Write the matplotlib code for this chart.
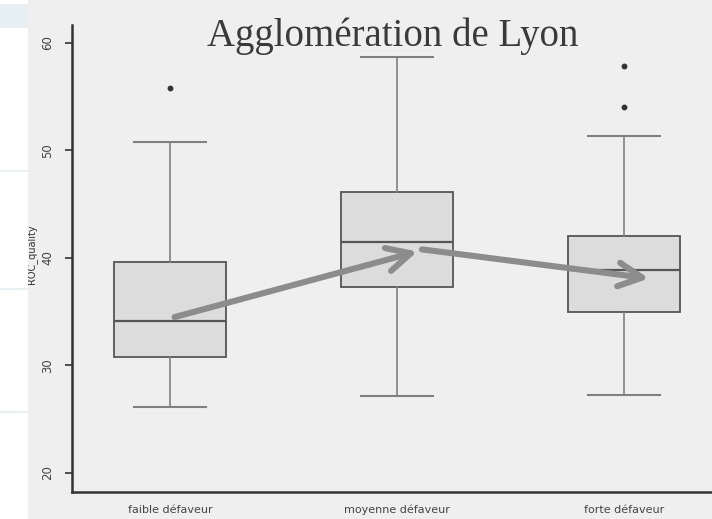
import matplotlib
matplotlib.use("Agg")
import matplotlib.pyplot as plt
from matplotlib.patches import Rectangle

# ---- data ----
categories = ["faible défaveur", "moyenne défaveur", "forte défaveur"]
whisker_low = [26.1, 27.2, 27.3]
q1 = [30.8, 37.3, 35.0]
medians = [34.1, 41.5, 38.9]
q3 = [39.6, 46.1, 42.0]
whisker_high = [50.8, 58.7, 51.3]
outliers = [[55.8], [], [57.9, 54.0]]
y_ticks = [20, 30, 40, 50, 60]
title = "Agglomération de Lyon"
ylabel = "ROC_quality"
# arrows between medians (x in category units, y in data units)
arrow_start_x = [1.02, 2.11]
arrow_start_y = [34.5, 40.8]
arrow_end_x = [2.09, 3.11]
arrow_end_y = [40.6, 38.1]

BG = "#efefef"
fig = plt.figure(figsize=(7.12, 5.19), dpi=100, facecolor=BG)
ax = fig.add_axes([0.1011, 0.052, 0.8989, 0.8998])
ax.set_facecolor(BG)

stats = []
for i, c in enumerate(categories):
    stats.append(dict(label=c, whislo=whisker_low[i], q1=q1[i], med=medians[i],
                      q3=q3[i], whishi=whisker_high[i], fliers=outliers[i]))
positions = list(range(1, len(categories) + 1))
ax.bxp(stats, positions=positions, widths=0.49, capwidths=0.32, patch_artist=True,
       boxprops=dict(facecolor="#dcdcdc", edgecolor="#555555", linewidth=1.3),
       medianprops=dict(color="#555555", linewidth=1.6),
       whiskerprops=dict(color="#808080", linewidth=1.2),
       capprops=dict(color="#808080", linewidth=1.5),
       flierprops=dict(marker="o", markersize=3.2, markerfacecolor="#333333",
                       markeredgecolor="#333333"))

for sx, sy, ex, ey in zip(arrow_start_x, arrow_start_y, arrow_end_x, arrow_end_y):
    ax.annotate("", xy=(ex, ey), xytext=(sx, sy),
                arrowprops=dict(arrowstyle="->,head_length=1.7,head_width=0.85",
                                color="#8c8c8c", lw=4.4, capstyle="round",
                                joinstyle="round", shrinkA=0, shrinkB=0))

ax.set_xlim(0.568, 3.388)
ax.set_ylim(18.23, 61.67)
ax.set_xticks(positions)
ax.set_xticklabels(categories, fontsize=8, color="#444444", family="DejaVu Sans")
ax.tick_params(axis="x", length=0, pad=9)
ax.set_yticks(y_ticks)
ax.set_yticklabels([str(t) for t in y_ticks], rotation=90, va="center",
                   fontsize=8.5, color="#444444")
ax.tick_params(axis="y", length=5, width=1.2, color="#333333", pad=8)
for s in ["top", "right"]:
    ax.spines[s].set_visible(False)
for s in ["left", "bottom"]:
    ax.spines[s].set_color("#333333")
    ax.spines[s].set_linewidth(1.8)

fig.text(0.552, 0.930, title, ha="center", va="center", fontsize=28,
         family="Liberation Serif", color="#3a3a3a")
fig.text(0.045, 0.51, ylabel, rotation=90, ha="center", va="center",
         fontsize=7, color="#333333")

# screenshot strip at the left edge
fig.patches.append(Rectangle((0, 0), 28 / 712, 1, transform=fig.transFigure,
                             facecolor="white", edgecolor="none", zorder=5))
fig.patches.append(Rectangle((0, 1 - 28 / 519), 28 / 712, 24 / 519,
                             transform=fig.transFigure, facecolor="#e6f0f3",
                             edgecolor="none", zorder=6))
for yp in [172, 290, 413]:
    fig.patches.append(Rectangle((0, 1 - yp / 519), 28 / 712, 2 / 519,
                                 transform=fig.transFigure, facecolor="#e8f1f4",
                                 edgecolor="none", zorder=6))

fig.savefig("out.png", dpi=100, facecolor=BG)
